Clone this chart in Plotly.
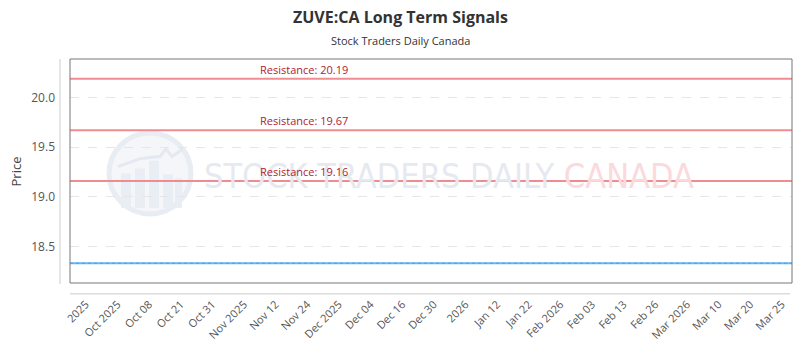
import plotly.graph_objects as go

title_text = "ZUVE:CA Long Term Signals"
subtitle_text = "Stock Traders Daily Canada"
tick_labels = ["2025", "Oct 2025", "Oct 08", "Oct 21", "Oct 31", "Nov 2025", "Nov 12",
               "Nov 24", "Dec 2025", "Dec 04", "Dec 16", "Dec 30", "2026", "Jan 12",
               "Jan 22", "Feb 2026", "Feb 03", "Feb 13", "Feb 26", "Mar 2026", "Mar 10",
               "Mar 20", "Mar 25"]
resistance_levels = [20.19, 19.67, 19.16]
price_level = 18.33
y_ticks = [18.5, 19.0, 19.5, 20.0]
y_range = [18.13, 20.39]

n = len(tick_labels)
tick_pos = list(range(n))
x_range = [-0.5, n - 1 + 0.32]

PW, PH, L, T = 722, 227, 70, 59


def px(x):
    return (x - L) / PW


def py(y):
    return (T + PH - y) / PH


fig = go.Figure()
fig.add_trace(go.Scatter(x=[tick_pos[0], tick_pos[-1]], y=[price_level, price_level],
                         mode="lines", line=dict(color="rgba(0,0,0,0)"), hoverinfo="skip",
                         showlegend=False))

shapes = []
annotations = []
# watermark logo
shapes.append(dict(type="circle", xref="paper", yref="paper", x0=px(109), x1=px(191),
                   y0=py(216), y1=py(134), line=dict(color="#e8ecf3", width=5),
                   fillcolor="#f4f6fa", layer="below"))
for bx0, bx1, btop in [(121, 131, 175), (135, 145, 170), (149, 159, 162), (163, 173, 176), (175, 182, 180)]:
    shapes.append(dict(type="rect", xref="paper", yref="paper", x0=px(bx0), x1=px(bx1),
                       y0=py(210), y1=py(btop), line=dict(width=0), fillcolor="#e9edf4",
                       layer="below"))
shapes.append(dict(type="path", xref="paper", yref="paper",
                   path=f"M {px(118)},{py(168)} L {px(140)},{py(160)} L {px(156)},{py(158)} L {px(160)},{py(158)} L {px(166)},{py(150)} L {px(172)},{py(158)} L {px(183)},{py(150)}",
                   line=dict(color="#e4e8f0", width=3), layer="below"))
annotations.append(dict(xref="paper", yref="paper", x=px(202), y=py(178),
                        xanchor="left", yanchor="middle", showarrow=False,
                        text="<span style='color:#e6e9ef'>STOCK TRADERS DAILY</span> <span style='color:#fadadd'>CANADA</span>",
                        font=dict(family="DejaVu Sans Condensed, sans-serif", size=34)))

for lvl in resistance_levels:
    shapes.append(dict(type="line", xref="paper", yref="y", x0=0, x1=1, y0=lvl, y1=lvl,
                       line=dict(color="#f08c8f", width=2)))
    annotations.append(dict(xref="paper", yref="y", x=px(258), y=lvl, xanchor="left",
                            yanchor="bottom", showarrow=False, yshift=0,
                            text=f"Resistance: {lvl:.2f}",
                            font=dict(family="Open Sans, sans-serif", size=11, color="#b0222e")))

shapes.append(dict(type="line", xref="paper", yref="y", x0=0, x1=1, y0=price_level, y1=price_level,
                   line=dict(color="#66b5f5", width=2)))
shapes.append(dict(type="line", xref="paper", yref="y", x0=0, x1=1, y0=price_level, y1=price_level,
                   line=dict(color="#4aa3ec", width=1, dash="dot")))
# plot frame
shapes.append(dict(type="rect", xref="paper", yref="paper", x0=0, x1=1, y0=0, y1=1,
                   line=dict(color="#777777", width=1)))
# offset axis lines
shapes.append(dict(type="line", xref="paper", yref="paper", x0=0, x1=px(790),
                   y0=py(297), y1=py(297), line=dict(color="#cccccc", width=1)))
shapes.append(dict(type="line", xref="paper", yref="paper", x0=px(60), x1=px(60),
                   y0=py(287), y1=1, line=dict(color="#cccccc", width=1)))

annotations.append(dict(xref="paper", yref="paper", x=px(400), y=py(16), xanchor="center",
                        yanchor="middle", showarrow=False, text=f"<b>{title_text}</b>",
                        font=dict(family="Open Sans, sans-serif", size=16, color="#333333")))
annotations.append(dict(xref="paper", yref="paper", x=px(400), y=py(40), xanchor="center",
                        yanchor="middle", showarrow=False, text=subtitle_text,
                        font=dict(family="Open Sans, sans-serif", size=11, color="#333333")))
annotations.append(dict(xref="paper", yref="paper", x=px(16), y=py(173), xanchor="center",
                        yanchor="middle", showarrow=False, text="Price", textangle=-90,
                        font=dict(family="Open Sans, sans-serif", size=13, color="#444444")))

fig.update_layout(
    width=800, height=350,
    margin=dict(l=L, r=800 - L - PW, t=T, b=350 - T - PH),
    paper_bgcolor="white", plot_bgcolor="white",
    shapes=shapes, annotations=annotations,
    showlegend=False,
    xaxis=dict(range=x_range, tickmode="array", tickvals=tick_pos, ticktext=tick_labels,
               tickangle=-45, showgrid=False, zeroline=False, showline=False,
               ticks="", ticklabelstandoff=12,
               tickfont=dict(family="Open Sans, sans-serif", size=11, color="#555555")),
    yaxis=dict(range=y_range, tickmode="array", tickvals=y_ticks,
               ticktext=[f"{v:.1f}" for v in y_ticks],
               showgrid=True, gridcolor="#e6e6e6", griddash="dash", gridwidth=1,
               zeroline=False, showline=False, ticks="", ticklabelstandoff=14,
               tickfont=dict(family="Open Sans, sans-serif", size=12, color="#555555")),
)

fig.write_html("out.html")
